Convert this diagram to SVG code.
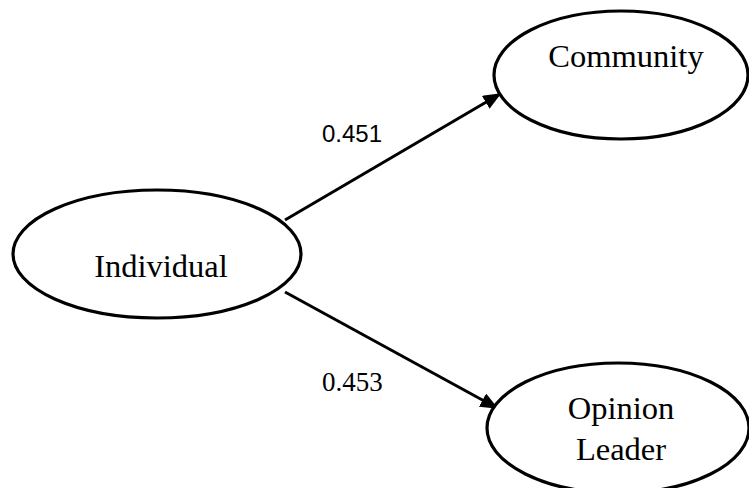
<svg xmlns="http://www.w3.org/2000/svg" width="749" height="488" viewBox="0 0 749 488">
<style>
.node ellipse{fill:#fff;stroke:#000;stroke-width:3.2}
.lbl{font-family:"Liberation Serif",serif;font-size:32.5px;fill:#000;text-anchor:middle}
.edge{stroke:#000;stroke-width:3;fill:none}
.w1{font-family:"Liberation Sans",sans-serif;font-size:24px;fill:#000}
.w2{font-family:"Liberation Serif",serif;font-size:27px;fill:#000}
</style>
<defs>
<marker id="ah" markerWidth="6" markerHeight="5" refX="5.5" refY="2.5" orient="auto" markerUnits="strokeWidth">
<path d="M0,0 L6,2.5 L0,5 z" fill="#000"/>
</marker>
</defs>
<g id="connectors">
<line class="edge" x1="285" y1="220" x2="500" y2="94" marker-end="url(#ah)"/>
<line class="edge" x1="285" y1="292" x2="497" y2="408" marker-end="url(#ah)"/>
<text class="w1" x="322" y="142">0.451</text>
<text class="w2" x="322" y="391">0.453</text>
</g>
<g id="community" class="node">
<ellipse cx="621" cy="75" rx="127" ry="64"/>
<text class="lbl" x="626" y="67">Community</text>
</g>
<g id="individual" class="node">
<ellipse cx="157" cy="254" rx="144" ry="64"/>
<text class="lbl" x="161" y="277">Individual</text>
</g>
<g id="opinion" class="node">
<ellipse cx="618" cy="428" rx="131" ry="65"/>
<text class="lbl" x="621" y="419">Opinion</text>
<text class="lbl" x="621" y="460">Leader</text>
</g>
</svg>
